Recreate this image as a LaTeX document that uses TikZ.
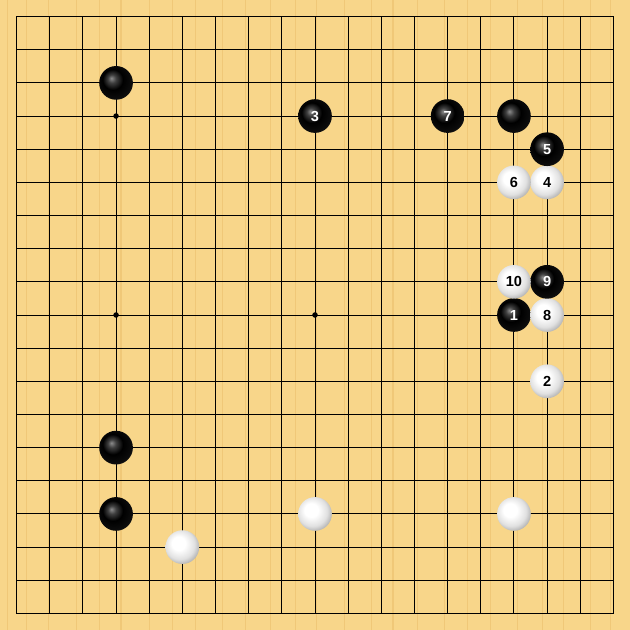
\documentclass[tikz,border=0pt]{standalone}
\usepackage{fontspec}
\setsansfont{Liberation Sans}
\usepackage{xcolor}
\definecolor{boardwood}{RGB}{248,214,138}
\definecolor{woodstripe}{RGB}{240,200,120}
\usetikzlibrary{shadings}

\pgfdeclareradialshading{whiteball}{\pgfpoint{-7bp}{7bp}}{color(0bp)=(white); color(10bp)=(white); color(22bp)=(black!12); color(32bp)=(black!38); color(50bp)=(black!38)}
\pgfdeclareradialshading{blackball}{\pgfpoint{-7bp}{7bp}}{color(0bp)=(black!45); color(6bp)=(black!75); color(15bp)=(black); color(27bp)=(black!95); color(33bp)=(black!82); color(50bp)=(black!82)}

\tikzset{
  blackstone/.style={circle, minimum size=0.61cm, inner sep=0pt, shading=blackball, text=white, font=\sffamily\bfseries\fontsize{7.5}{7.5}\selectfont},
  whitestone/.style={circle, minimum size=0.61cm, inner sep=0pt, shading=whiteball, text=black, font=\sffamily\bfseries\fontsize{7.5}{7.5}\selectfont},
  starpoint/.style={circle, fill=black, inner sep=0pt, minimum size=0.1cm}
}

\begin{document}
\begin{tikzpicture}[x=0.6cm, y=0.6cm]
    % Board
    \fill [boardwood] (-0.5, -0.5) rectangle (18.5, 18.5);
    \useasboundingbox (-0.5, -0.5) rectangle (18.5, 18.5);
    \foreach \s in {0.13, 0.71, 1.37, 2.2, 2.9, 3.55, 4.4, 5.1, 5.8, 6.6, 7.3, 8.05, 8.8, 9.45, 10.3, 11.1, 11.75, 12.5, 13.3, 14.0, 14.7, 15.5, 16.25, 16.9, 17.7, 18.3}
        \draw [woodstripe, line width=0.6pt] (\s-0.4, -0.5) -- (\s-0.4, 18.5);
    \foreach \i in {1,...,17} {
        \draw [line width=0.5pt] (\i, 0) -- (\i, 18); % vertical
        \draw [line width=0.5pt] (0, \i) -- (18, \i); % horizontal
    }
    \draw [line width=0.8pt] (0, 0) rectangle (18, 18);
    % Hoshi
    \foreach \x in {3, 9, 15}
        \foreach \y in {3, 9, 15}
            \node [starpoint] (hoshi-\x-\y) at (\x, \y) {};

    % Stones already on the board
    \node [blackstone] (b-d17) at (3, 16) {};
    \node [blackstone] (b-q16) at (15, 15) {};
    \node [blackstone] (b-d6) at (3, 5) {};
    \node [blackstone] (b-d4) at (3, 3) {};
    \node [whitestone] (w-f3) at (5, 2) {};
    \node [whitestone] (w-k4) at (9, 3) {};
    \node [whitestone] (w-q4) at (15, 3) {};

    % Numbered moves
    \node [blackstone] (m1) at (15, 9) {1};
    \node [whitestone] (m2) at (16, 7) {2};
    \node [blackstone] (m3) at (9, 15) {3};
    \node [whitestone] (m4) at (16, 13) {4};
    \node [blackstone] (m5) at (16, 14) {5};
    \node [whitestone] (m6) at (15, 13) {6};
    \node [blackstone] (m7) at (13, 15) {7};
    \node [whitestone] (m8) at (16, 9) {8};
    \node [blackstone] (m9) at (16, 10) {9};
    \node [whitestone] (m10) at (15, 10) {10};
\end{tikzpicture}
\end{document}
